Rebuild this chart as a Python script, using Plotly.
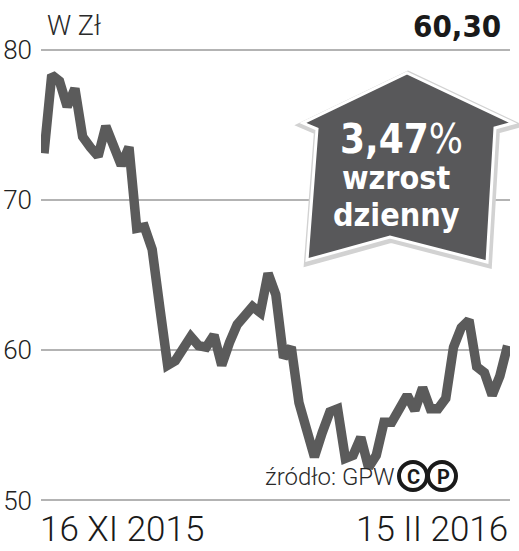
import plotly.graph_objects as go

# ---- data ----
day_index = list(range(61))
prices = [73.1, 78.3, 77.9, 76.2, 77.4, 74.2, 73.5, 72.9, 74.9, 73.6,
          72.3, 73.5, 68.1, 68.2, 66.7, 62.8, 59.0, 59.3, 60.1, 60.9,
          60.3, 60.2, 61.0, 59.0, 60.5, 61.7, 62.3, 62.9, 62.5, 65.1,
          63.7, 59.5, 60.2, 56.5, 54.7, 52.9, 54.5, 55.9, 56.1, 52.8,
          53.0, 54.2, 52.2, 53.0, 55.2, 55.2, 56.1, 57.0, 56.0, 57.5,
          56.1, 56.1, 56.8, 60.2, 61.5, 62.0, 58.9, 58.5, 57.0, 58.28,
          60.3]
y_ticks = [50, 60, 70, 80]
date_start = "16 XI 2015"
date_end = "15 II 2016"
unit_label = "W Zł"
last_value = "60,30"
change_pct = "3,47%"
source_label = "źródło: GPW"

W, H = 519, 551
L, R, T, B = 41, 9, 45, 46
PW, PH = W - L - R, H - T - B


def px(x):
    return (x - L) / PW


def py(y):
    return (H - B - y) / PH


fig = go.Figure()
fig.add_trace(go.Scatter(
    x=day_index, y=prices, mode="lines",
    line=dict(color="#5b5b5b", width=9.5),
    hoverinfo="skip", showlegend=False))

light = "Roboto"
cond = "Liberation Sans Narrow, DejaVu Sans Condensed, Roboto Condensed, Roboto"

# arrow polygon
arrow_pts = [(407, 73), (513, 123), (495, 128), (487, 262), (390, 237),
             (307, 260), (317, 129), (303, 123)]


def path_of(pts, dx=0, dy=0):
    s = "M " + " L ".join(f"{px(x + dx):.4f},{py(y + dy):.4f}" for x, y in pts)
    return s + " Z"


shapes = [
    dict(type="path", xref="paper", yref="paper", path=path_of(arrow_pts, 1, 2),
         fillcolor="#c9c9c9", line=dict(color="#d2d2d2", width=8), layer="above"),
    dict(type="path", xref="paper", yref="paper", path=path_of(arrow_pts),
         fillcolor="#58585a", line=dict(color="white", width=3), layer="above"),
]
# copyright / phonogram circles
for cx in (413, 442):
    r = 14
    shapes.append(dict(type="circle", xref="paper", yref="paper",
                       x0=px(cx - r), x1=px(cx + r), y0=py(476 + r), y1=py(476 - r),
                       line=dict(color="#1a1a1a", width=4), fillcolor="white",
                       layer="above"))

annotations = [
    dict(text=unit_label, x=px(45), y=py(26), xanchor="left", yanchor="middle",
         font=dict(family=light, size=27, color="#2a2a2a", weight=300)),
    dict(text=f"<b>{last_value}</b>", x=px(503), y=py(26), xanchor="right", yanchor="middle",
         font=dict(family=cond, size=31, color="#1a1a1a")),
    dict(text=f"<b>{change_pct[:-1]}</b>{change_pct[-1]}", x=px(401), y=py(139),
         xanchor="center", yanchor="middle",
         font=dict(family=cond, size=40, color="white")),
    dict(text="<b>wzrost</b>", x=px(396), y=py(178), xanchor="center", yanchor="middle",
         font=dict(family=cond, size=32, color="white")),
    dict(text="<b>dzienny</b>", x=px(396), y=py(215), xanchor="center", yanchor="middle",
         font=dict(family=cond, size=32, color="white")),
    dict(text=source_label, x=px(397), y=py(477), xanchor="right", yanchor="middle",
         font=dict(family=light, size=24, color="#2a2a2a", weight=300)),
    dict(text="<b>C</b>", x=px(413), y=py(477), xanchor="center", yanchor="middle",
         font=dict(family="Roboto", size=20, color="#1a1a1a")),
    dict(text="<b>P</b>", x=px(443), y=py(477), xanchor="center", yanchor="middle",
         font=dict(family="Roboto", size=20, color="#1a1a1a")),
    dict(text=date_start, x=px(38), y=py(529), xanchor="left", yanchor="middle",
         font=dict(family=light, size=35, color="#1a1a1a", weight=300)),
    dict(text=date_end, x=px(510), y=py(529), xanchor="right", yanchor="middle",
         font=dict(family=light, size=35, color="#1a1a1a", weight=300)),
]
for a in annotations:
    a.update(xref="paper", yref="paper", showarrow=False)

x_per_px = 60 / (507.6 - 44)
y_per_px = 1 / 15

fig.update_layout(
    width=W, height=H, autosize=False,
    margin=dict(l=L, r=R, t=T, b=B),
    paper_bgcolor="white", plot_bgcolor="white",
    xaxis=dict(range=[-(44 - L) * x_per_px, 60 + (W - R - 507.6) * x_per_px],
               showgrid=False, zeroline=False, showticklabels=False, ticks="",
               showline=False, fixedrange=True, automargin=False),
    yaxis=dict(range=[50 - (H - B - 500.5) * y_per_px, 80 + (49.5 - T) * y_per_px],
               tickvals=y_ticks, ticktext=[str(v) for v in y_ticks],
               showgrid=True, gridcolor="#b3b3b3", gridwidth=1.5,
               zeroline=False, showline=False, ticks="", ticklabelstandoff=8,
               automargin=False,
               tickfont=dict(family=light, size=26, color="#222222", weight=300),
               fixedrange=True),
    shapes=shapes, annotations=annotations,
)

fig.write_html("out.html", config={"displayModeBar": False},
               post_script="document.body.style.margin='0';document.body.style.padding='0';")
